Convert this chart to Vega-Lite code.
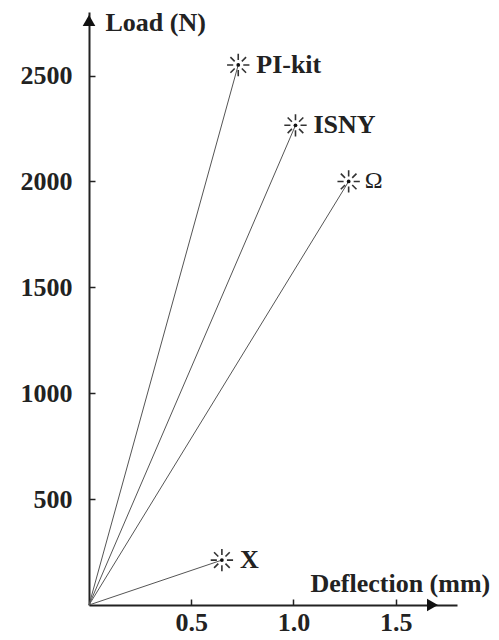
{
  "$schema": "https://vega.github.io/schema/vega-lite/v6.json",
  "width": 368,
  "height": 593,
  "autosize": "none",
  "padding": {"left": 89, "top": 12, "right": 42, "bottom": 35},
  "background": "white",
  "datasets": {
    "pts": [
      {"name": "PI-kit", "d": 0.73, "load": 2550},
      {"name": "ISNY", "d": 1.01, "load": 2265},
      {"name": "Ω", "d": 1.27, "load": 2000},
      {"name": "X", "d": 0.65, "load": 212}
    ],
    "lines": [
      {"name": "PI-kit", "d": 0, "load": 0},
      {"name": "PI-kit", "d": 0.73, "load": 2550},
      {"name": "ISNY", "d": 0, "load": 0},
      {"name": "ISNY", "d": 1.01, "load": 2265},
      {"name": "Ω", "d": 0, "load": 0},
      {"name": "Ω", "d": 1.27, "load": 2000},
      {"name": "X", "d": 0, "load": 0},
      {"name": "X", "d": 0.65, "load": 212}
    ],
    "arrows": [
      {"d": 1.68, "load": 0, "dir": "triangle-right"},
      {"d": 0, "load": 2760, "dir": "triangle-up"}
    ]
  },
  "config": {
    "view": {"stroke": null},
    "axis": {
      "grid": false,
      "domainColor": "#222",
      "domainWidth": 2,
      "tickColor": "#222",
      "tickWidth": 1.5,
      "tickSize": -6,
      "labelFont": "Liberation Serif",
      "labelFontWeight": "bold",
      "labelFontSize": 26,
      "labelColor": "#222",
      "titleFont": "Liberation Serif",
      "titleFontWeight": "bold",
      "titleFontSize": 26,
      "titleColor": "#222"
    }
  },
  "layer": [
    {
      "data": {"name": "lines"},
      "mark": {"type": "line", "color": "#555", "strokeWidth": 1},
      "encoding": {
        "x": {"field": "d", "type": "quantitative", "scale": {"domain": [0, 1.68]},
          "axis": {"values": [0.5, 1.0, 1.5], "format": ".1f", "labelPadding": 10,
            "title": "Deflection (mm)", "titleX": 221, "titleY": -22, "titleAlign": "left", "titleBaseline": "middle", "titleAngle": 0}},
        "y": {"field": "load", "type": "quantitative", "scale": {"domain": [0, 2760]},
          "axis": {"values": [500, 1000, 1500, 2000, 2500], "format": "d", "labelPadding": 23,
            "title": "Load (N)", "titleX": 16, "titleY": 10, "titleAlign": "left", "titleBaseline": "middle", "titleAngle": 0}},
        "detail": {"field": "name", "type": "nominal"}
      }
    },
    {
      "data": {"name": "pts"},
      "mark": {"type": "point", "shape": "M0,-1L0,-0.45M0,0.45L0,1M-1,0L-0.45,0M0.45,0L1,0M-0.7,-0.7L-0.32,-0.32M0.32,0.32L0.7,0.7M-0.7,0.7L-0.32,0.32M0.32,-0.32L0.7,-0.7", "size": 500, "filled": false, "stroke": "#333", "strokeWidth": 1.6, "opacity": 1},
      "encoding": {
        "x": {"field": "d", "type": "quantitative"},
        "y": {"field": "load", "type": "quantitative"}
      }
    },
    {
      "data": {"name": "pts"},
      "mark": {"type": "point", "shape": "circle", "size": 14, "filled": true, "color": "#111", "opacity": 1},
      "encoding": {
        "x": {"field": "d", "type": "quantitative"},
        "y": {"field": "load", "type": "quantitative"}
      }
    },
    {
      "data": {"name": "pts"},
      "transform": [{"filter": "datum.name !== 'Ω'"}],
      "mark": {"type": "text", "align": "left", "baseline": "middle", "dx": 18, "font": "Liberation Serif", "fontWeight": "bold", "fontSize": 26, "color": "#222"},
      "encoding": {
        "x": {"field": "d", "type": "quantitative"},
        "y": {"field": "load", "type": "quantitative"},
        "text": {"field": "name"}
      }
    },
    {
      "data": {"name": "pts"},
      "transform": [{"filter": "datum.name === 'Ω'"}],
      "mark": {"type": "text", "align": "left", "baseline": "middle", "dx": 16, "font": "Liberation Serif", "fontWeight": "normal", "fontSize": 24, "color": "#222"},
      "encoding": {
        "x": {"field": "d", "type": "quantitative"},
        "y": {"field": "load", "type": "quantitative"},
        "text": {"field": "name"}
      }
    },
    {
      "data": {"name": "arrows"},
      "mark": {"type": "point", "filled": true, "size": 160, "color": "#111", "opacity": 1},
      "encoding": {
        "x": {"field": "d", "type": "quantitative"},
        "y": {"field": "load", "type": "quantitative"},
        "shape": {"field": "dir", "type": "nominal", "scale": null}
      }
    }
  ]
}
